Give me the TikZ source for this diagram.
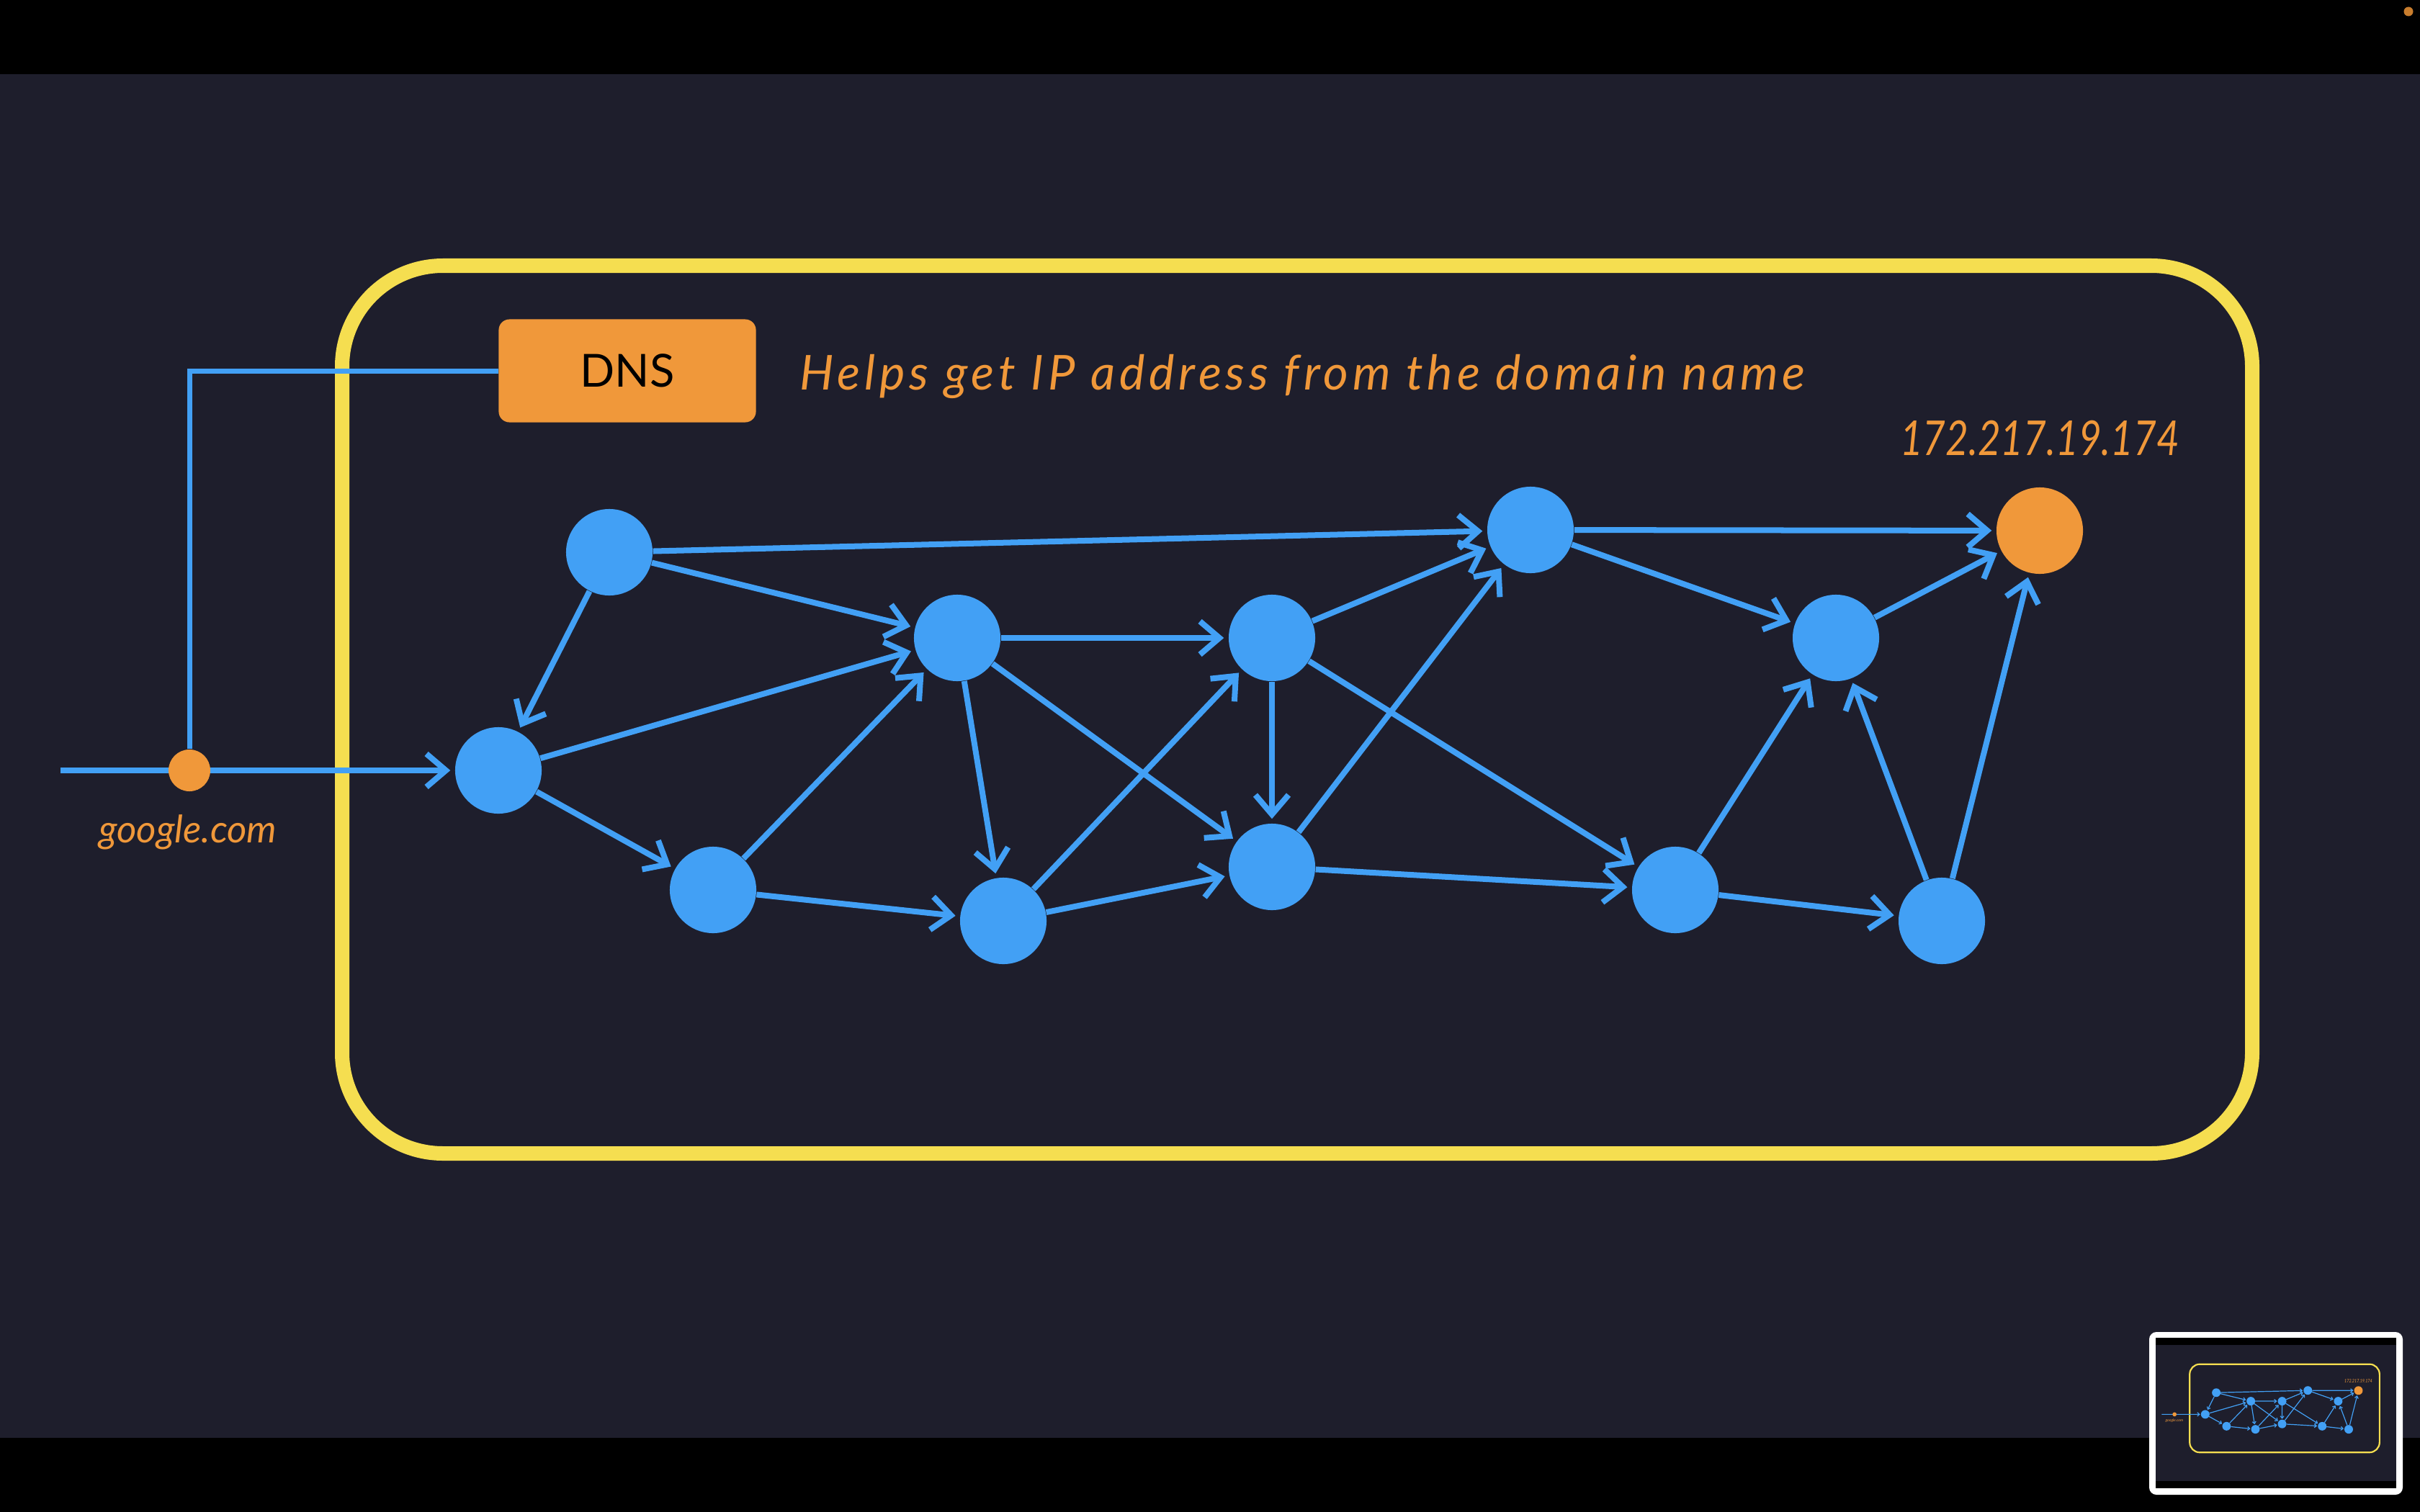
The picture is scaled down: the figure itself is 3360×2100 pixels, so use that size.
\documentclass[tikz,border=0pt]{standalone}
\usepackage{fontspec}
\setmainfont{Lato}
\usetikzlibrary{arrows.meta}

\definecolor{screenbg}{RGB}{30,30,44}
\definecolor{netblue}{RGB}{66,160,245}
\definecolor{netorange}{RGB}{240,152,58}
\definecolor{boxyellow}{RGB}{245,222,80}
\definecolor{recdot}{RGB}{200,125,45}

\tikzset{
  host/.style={circle, fill=netblue, minimum size=1.2cm, inner sep=0pt},
  target/.style={host, fill=netorange},
  link/.style={draw=netblue, line width=0.08cm, shorten >=0.06cm,
    -{Straight Barb[length=0.27cm,width=0.46cm]}},
  wire/.style={draw=netblue, line width=0.07cm},
  yellowframe/.style={draw=boxyellow, line width=0.2cm, rounded corners=1.4cm},
  hand/.style={text=netorange, font=\fontsize{19}{22}\selectfont\itshape},
  wide hand/.style={hand, font=\fontsize{19}{22}\selectfont\itshape\addfontfeature{LetterSpace=8.8}},
  narrow hand/.style={text=netorange, font=\fontsize{19}{22}\selectfont\itshape\addfontfeature{FakeStretch=0.82}},
  small hand/.style={text=netorange, font=\fontsize{15}{18}\selectfont\itshape},
  dnsbox/.style={fill=netorange, rounded corners=0.15cm, minimum width=3.57cm,
    minimum height=1.43cm, font=\fontsize{18}{22}\selectfont},
}

% one screen of the network, #1 = prefix for node names
\newcommand{\netscreen}[1]{
  \fill[black] (0,0) rectangle (3360,2100);
  \fill[screenbg] (0,103) rectangle (3360,1997);
  \draw[yellowframe] (475,369) rectangle (3127,1602);
  % hosts
  \foreach \n/\x/\y in {A/692/1070, B/846/767, C/990/1236, D/1329/886,
      E/1393/1279, F/1766/886, G/1766/1204, H/2125/736, I/2326/1236,
      J/2549/886, K/2696/1279}
    \node[host] (#1\n) at (\x,\y) {};
  \node[target] (#1T) at (2832,737) {};
  \node[narrow hand, anchor=base] (#1ip) at (2832,632) {172.217.19.174};
  % links
  \foreach \s/\t in {B/A, B/D, B/H, A/D, A/C, C/D, C/E, D/F, D/E, D/G,
      E/F, E/G, F/H, F/G, F/I, G/H, G/I, H/T, H/J, I/J, I/K, K/J, K/T, J/T}
    \draw[link] (#1\s) -- (#1\t);
  % request
  \coordinate (#1start) at (84,1070);
  \draw[link] (#1start) -- (#1A);
  \node[circle, fill=netorange, minimum size=0.58cm, inner sep=0pt] (#1dot) at (263,1070) {};
  \node[small hand, anchor=base] (#1site) at (261,1170) {google.com};
}

\begin{document}
\begin{tikzpicture}[x=0.01cm, y=-0.01cm]
  \useasboundingbox (0,0) rectangle (3360,2100);
  \netscreen{}
  \fill[recdot] (3344,16) circle (6.5);

  % dns lookup
  \node[dnsbox] (dns) at (871,515) {DNS};
  \node[wide hand, anchor=base west] (helps) at (1098,541) {Helps get IP address from the domain name};
  \draw[wire] (dot.north) |- (dns.west);

  % preview
  \fill[white, rounded corners=0.1cm] (2984,1850) rectangle (3336,2076);
  \begin{scope}[shift={(2993,1858)}, scale=0.0994, transform shape,
      link/.style={draw=netblue, line width=0.012cm, shorten >=0.01cm,
        -{Straight Barb[length=0.03cm,width=0.05cm]}},
      yellowframe/.style={draw=boxyellow, line width=0.022cm, rounded corners=0.14cm}]
    \netscreen{p}
  \end{scope}
\end{tikzpicture}
\end{document}
